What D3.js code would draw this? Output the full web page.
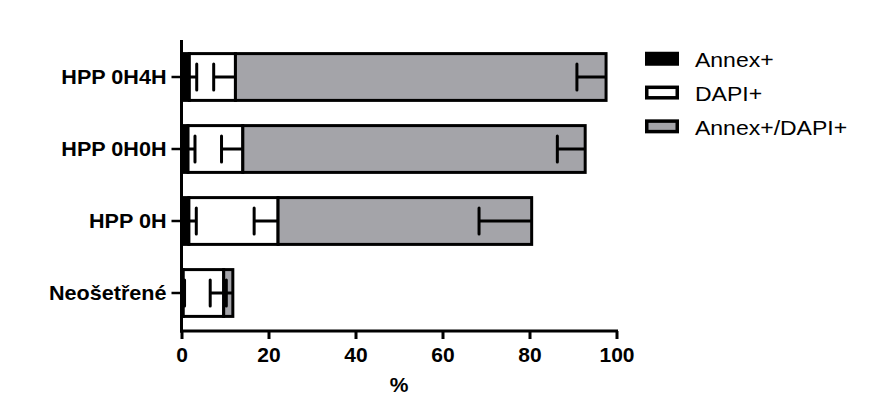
<!DOCTYPE html>
<html><head><meta charset="utf-8">
<script src="https://cdn.jsdelivr.net/npm/d3@7"></script>
<style>body{margin:0;background:#fff;} svg{display:block;}</style>
</head><body>
<svg id="chart" width="873" height="419"></svg>
<script>
const categories = ["HPP 0H4H", "HPP 0H0H", "HPP 0H", "Neošetřené"];
const seriesNames = ["Annex+", "DAPI+", "Annex+/DAPI+"];
const annexValues = [1.8, 1.5, 1.7, 0.4];
const dapiValues = [10.6, 12.6, 20.5, 9.3];
const bothValues = [85.2, 78.7, 58.3, 2.1];
const annexErrors = [1.7, 1.6, 1.7, 0.3];
const dapiErrors = [5.0, 4.9, 5.5, 3.1];
const bothErrors = [6.7, 6.4, 12.1, 1.5];
const xTicks = [0, 20, 40, 60, 80, 100];
const xLabel = "%";

const colors = ["#000000", "#ffffff", "#a4a4a9"];
const errDir = [1, -1, -1];
const FONT = "Liberation Sans, Arial, Helvetica, sans-serif";

const svg = d3.select("#chart");
const x = d3.scaleLinear().domain([0, 100]).range([181.5, 616.5]);
const y = d3.scaleBand().domain(categories).range([41, 329]).paddingInner(0.35).paddingOuter(0.175);

const values = [annexValues, dapiValues, bothValues];
const errors = [annexErrors, dapiErrors, bothErrors];

// stacked segments
const rows = categories.map((c, i) => {
  let cum = 0;
  return seriesNames.map((s, k) => {
    const seg = {cat: c, k, x0: cum, x1: cum + values[k][i], err: errors[k][i]};
    cum = seg.x1;
    return seg;
  });
});

const g = svg.append("g");
rows.forEach(segs => {
  segs.forEach(seg => {
    g.append("rect")
      .attr("x", x(seg.x0)).attr("y", y(seg.cat))
      .attr("width", Math.max(0, x(seg.x1) - x(seg.x0)))
      .attr("height", y.bandwidth())
      .attr("fill", colors[seg.k])
      .attr("stroke", "#000").attr("stroke-width", 3);
  });
});
// error bars
rows.forEach(segs => {
  segs.forEach(seg => {
    const cy = y(seg.cat) + y.bandwidth() / 2;
    const xe = x(seg.x1 + errDir[seg.k] * seg.err);
    g.append("line").attr("x1", x(seg.x1)).attr("x2", xe)
      .attr("y1", cy).attr("y2", cy)
      .attr("stroke", "#000").attr("stroke-width", 3);
    g.append("line").attr("x1", xe).attr("x2", xe)
      .attr("y1", cy - 13).attr("y2", cy + 13)
      .attr("stroke", "#000").attr("stroke-width", 3).attr("stroke-linecap", "round");
  });
});

// x axis
const xAxis = svg.append("g").attr("transform", "translate(0,331)")
  .call(d3.axisBottom(x).tickValues(xTicks).tickSize(8).tickPadding(8).tickFormat(d3.format("d")));
xAxis.select(".domain").attr("stroke-width", 3).attr("d", `M${x(0)-1.5},0H${x(100)+1.5}`);
xAxis.selectAll(".tick line").attr("stroke-width", 3);
xAxis.selectAll(".tick text").attr("font-family", FONT)
  .attr("font-weight", "bold").attr("font-size", 21).attr("fill", "#000");

// y axis
const yAxis = svg.append("g").attr("transform", `translate(${x(0)},0)`)
  .call(d3.axisLeft(y).tickSize(10).tickPadding(5));
yAxis.select(".domain").attr("stroke-width", 3).attr("d", "M0,40V332.5");
yAxis.selectAll(".tick line").attr("stroke-width", 2.5);
yAxis.selectAll(".tick text")
  .attr("x", 0).attr("dy", null).attr("dominant-baseline", "central")
  .attr("transform", "translate(-15,0) scale(1.08,1)")
  .attr("font-family", FONT)
  .attr("font-weight", "bold").attr("font-size", 20).attr("fill", "#000");

svg.append("text").attr("x", (x(0) + x(100)) / 2).attr("y", 392)
  .attr("text-anchor", "middle")
  .attr("font-family", FONT)
  .attr("font-weight", "bold").attr("font-size", 21).text(xLabel);

// legend
const leg = svg.append("g");
seriesNames.forEach((s, k) => {
  const ly = 58.5 + k * 33.8;
  leg.append("rect").attr("x", 646.75).attr("y", ly - 5).attr("width", 30.5).attr("height", 10.5)
    .attr("fill", colors[k]).attr("stroke", "#000").attr("stroke-width", 3.5);
  leg.append("text").attr("transform", `translate(695,${ly + 8.5}) scale(1.18,1)`)
    .attr("font-family", FONT)
    .attr("font-size", 19.5).attr("fill", "#000").text(s);
});
</script>
</body></html>
